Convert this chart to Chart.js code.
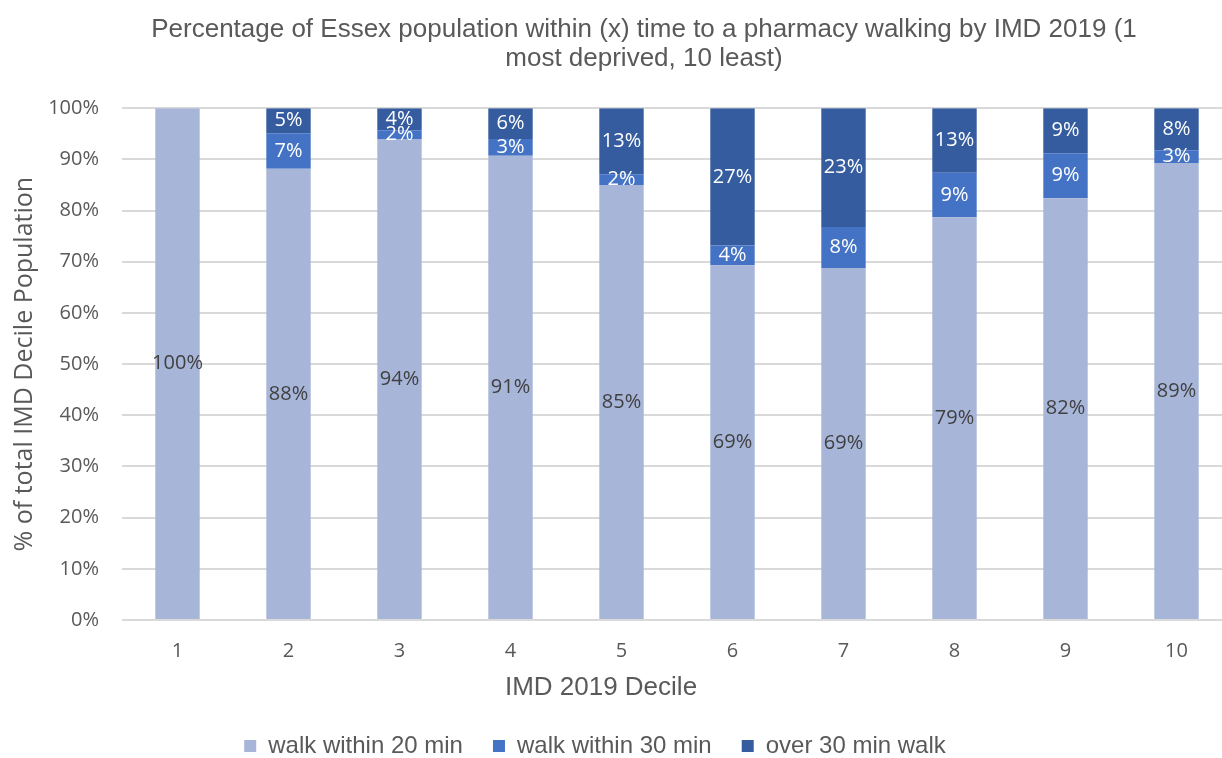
<!DOCTYPE html>
<html>
<head>
<meta charset="utf-8">
<script src="https://cdn.jsdelivr.net/npm/chart.js@4/dist/chart.umd.min.js"></script>
<style>
  html, body { margin: 0; padding: 0; background: #ffffff; overflow: hidden; }
  #wrap { width: 1240px; height: 758px; }
</style>
</head>
<body>
<div id="wrap"><canvas id="c" width="1240" height="758"></canvas></div>
<script>
const categories = ['1', '2', '3', '4', '5', '6', '7', '8', '9', '10'];
const walk20 = [100, 88.2, 94.0, 90.7, 85.0, 69.3, 68.8, 78.7, 82.4, 89.3];
const walk30 = [0, 6.9, 1.7, 3.3, 2.1, 3.9, 8.0, 8.7, 8.8, 2.5];
const over30 = [0, 4.9, 4.3, 6.0, 12.9, 26.8, 23.2, 12.6, 8.8, 8.2];
const seriesNames = ['walk within 20 min', 'walk within 30 min', 'over 30 min walk'];
const yTicks = [0, 10, 20, 30, 40, 50, 60, 70, 80, 90, 100];
const titleLines = ['Percentage of Essex population within (x) time to a pharmacy walking by IMD 2019 (1', 'most deprived, 10 least)'];
const xTitle = 'IMD 2019 Decile';
const yTitle = '% of total IMD Decile Population';

const labelColors = ['#404040', '#ffffff', '#ffffff'];

const dataLabels = {
  id: 'dataLabels',
  afterDatasetsDraw(chart) {
    const ctx = chart.ctx;
    ctx.save();
    ctx.font = '20px "Open Sans"';
    ctx.textAlign = 'center';
    ctx.textBaseline = 'middle';
    chart.data.datasets.forEach((ds, di) => {
      const meta = chart.getDatasetMeta(di);
      meta.data.forEach((bar, i) => {
        const v = ds.data[i];
        if (!v) return;
        const p = bar.getProps(['x', 'y', 'base'], true);
        ctx.fillStyle = labelColors[di];
        ctx.fillText(Math.round(v) + '%', p.x, (p.y + p.base) / 2);
      });
    });
    ctx.restore();
  }
};

const shifter = {
  id: 'shifter',
  afterLayout(chart) {
    const t = chart.titleBlock;
    if (t) { t.left += 28; t.right += 28; }
    const l = chart.legend;
    if (l) { l.left -= 21; l.right -= 21; l.top += 10; l.bottom += 10; }
  },
  afterDraw(chart) {
    const ctx = chart.ctx;
    ctx.save();
    ctx.font = '26px "Liberation Sans"';
    ctx.fillStyle = '#595959';
    ctx.textAlign = 'center';
    ctx.textBaseline = 'middle';
    ctx.fillText(xTitle, 601, 688);
    ctx.restore();
  }
};

new Chart(document.getElementById('c'), {
  type: 'bar',
  data: {
    labels: categories,
    datasets: [
      { label: seriesNames[0], data: walk20, backgroundColor: '#A7B5D9' },
      { label: seriesNames[1], data: walk30, backgroundColor: '#4472C4' },
      { label: seriesNames[2], data: over30, backgroundColor: '#355C9F' }
    ]
  },
  options: {
    responsive: false,
    animation: false,
    layout: { padding: { left: 0, right: 8, top: 0, bottom: 0 } },
    datasets: { bar: { barPercentage: 0.4, categoryPercentage: 1.0, borderWidth: 0 } },
    plugins: {
      title: {
        display: true,
        text: titleLines,
        color: '#595959',
        font: { family: '"Liberation Sans"', size: 26, weight: 'normal', lineHeight: 1.12 },
        padding: { top: 15, bottom: 35 }
      },
      legend: {
        display: true,
        position: 'bottom',
        labels: {
          boxWidth: 12,
          boxHeight: 12,
          padding: 30,
          color: '#595959',
          font: { family: '"Liberation Sans"', size: 24 }
        }
      },
      tooltip: { enabled: false }
    },
    scales: {
      x: {
        stacked: true,
        grid: { display: false, drawTicks: false },
        border: { display: false },
        ticks: { color: '#595959', padding: 19, font: { family: '"Open Sans"', size: 20 } },
        afterFit(scale) { scale.height = 74; }
      },
      y: {
        stacked: true,
        min: 0,
        max: 100,
        afterBuildTicks(scale) { scale.ticks = yTicks.map(v => ({ value: v })); },
        ticks: {
          color: '#595959',
          padding: 23,
          font: { family: '"Open Sans"', size: 20 },
          callback: (v) => v + '%'
        },
        grid: { color: '#d9d9d9', lineWidth: 2, drawTicks: false },
        border: { display: false },
        title: {
          display: true,
          text: yTitle,
          color: '#595959',
          font: { family: '"Open Sans"', size: 25, lineHeight: 1.2 },
          padding: { top: 10, bottom: 0 }
        },
        afterFit(scale) { scale.width = 122; }
      }
    }
  },
  plugins: [dataLabels, shifter]
});
</script>
</body>
</html>
